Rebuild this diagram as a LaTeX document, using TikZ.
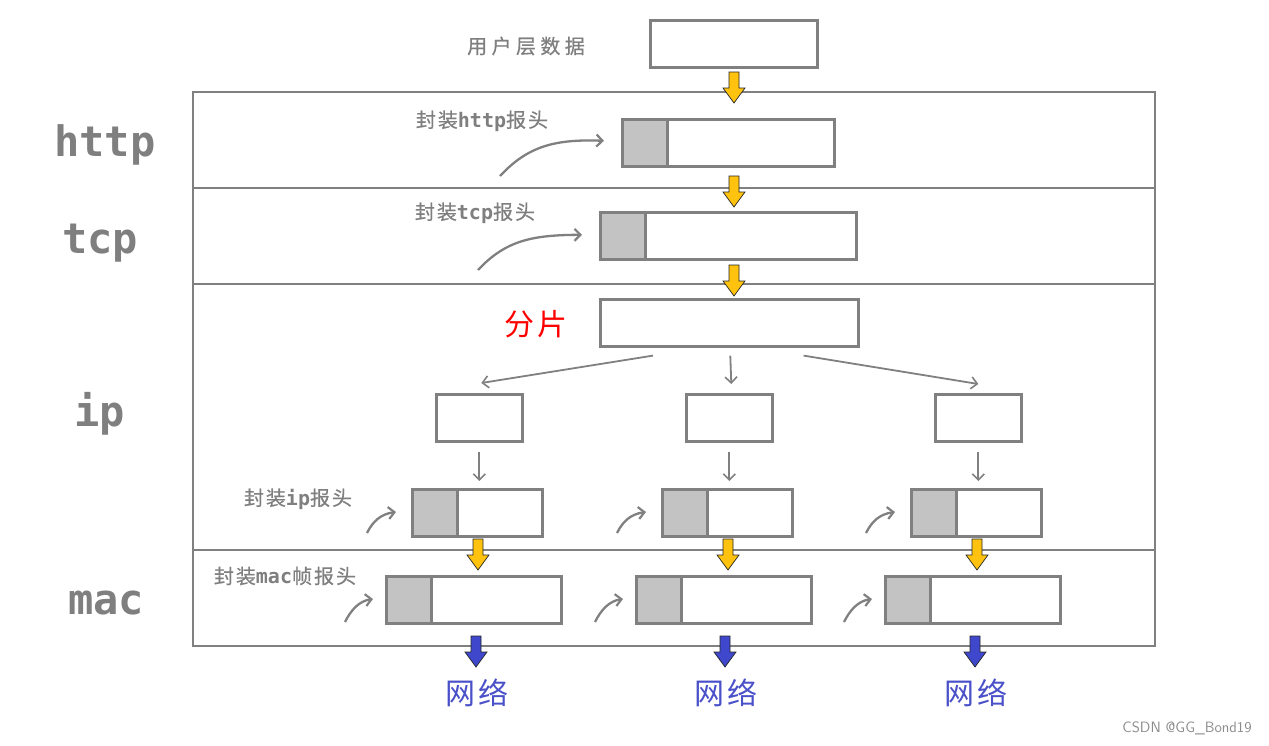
\documentclass[tikz,border=0pt]{standalone}
\usepackage{fontspec}
\usetikzlibrary{arrows.meta,calc}
\newfontfamily\cjk[LetterSpace=22,FakeBold=0.6]{Noto Sans CJK SC}
\newfontfamily\cjkb[LetterSpace=10,FakeBold=0.6]{Noto Sans CJK SC}
\newfontfamily\cjkn[LetterSpace=10]{Noto Sans CJK SC}
\newfontfamily\monob{DejaVu Sans Mono Bold}
\definecolor{lg}{HTML}{808080}
\definecolor{hg}{HTML}{C3C3C3}
\definecolor{ylw}{HTML}{FFC20E}
\definecolor{blu}{HTML}{3F48CC}
\definecolor{blut}{HTML}{4A50C8}
\definecolor{txtg}{HTML}{7F7F7F}
\newcommand\blockarr[4]{%
  \coordinate (#1) at (#2,#3);
  \filldraw[fill=#4, draw=black!85, line width=0.7pt]
    ($(#1)+(-5,0)$) -- ($(#1)+(5,0)$) -- ($(#1)+(5,16)$) -- ($(#1)+(11,16)$) --
    ($(#1)+(0,31)$) -- ($(#1)+(-11,16)$) -- ($(#1)+(-5,16)$) -- cycle;}
\begin{document}
\begin{tikzpicture}[x=1pt,y=-1pt,
  box/.style={draw=lg, line width=2.6pt, fill=white, inner sep=0pt, anchor=north west, minimum height=47pt},
  hdr/.style={box, fill=hg, minimum width=45pt},
  frame/.style={draw=lg, line width=2.4pt},
  layer/.style={text=txtg, font=\monob\fontsize{42}{42}\selectfont, inner sep=0pt},
  lbl/.style={text=txtg, font=\fontsize{20}{20}\selectfont, inner sep=0pt},
  cur/.style={draw=lg, line width=2.3pt, -{Straight Barb[length=6pt,width=12pt,line width=2.2pt]}},
  thin/.style={draw=lg, line width=1.8pt, -{Straight Barb[length=6pt,width=12pt,line width=1.6pt]}},
]
\useasboundingbox (0,0) rectangle (1269,745);
% frame
\draw[frame] (193,92) rectangle (1155,646);
\draw[frame] (193,188) -- (1155,188);
\draw[frame] (193,284) -- (1155,284);
\draw[frame] (193,550) -- (1155,550);
% layer labels
\node[layer] (lhttp) at (105,145) {http};
\node[layer] (ltcp) at (100,243) {tcp};
\node[layer] (lip) at (100,414) {ip};
\node[layer] (lmac) at (106,603) {mac};
% user data
\node[lbl] (tuser) at (526,46) {\cjk 用户层数据};
\node[box, minimum width=167pt] (user) at (649,19) {};
\blockarr{a1}{734}{72}{ylw}
% http
\node[lbl] (thttp) at (482,121) {\cjkb 封装\monob http\cjkb 报头};
\node[hdr] (hhttp) at (621,118) {};
\node[box, minimum width=167pt] (dhttp) at (666,118) {};
\coordinate (chttp) at (500,176);
\draw[cur] (chttp) .. controls (528,146) and (555,139) .. ($(hhttp.west)+(-17,-2)$);
\blockarr{a2}{734}{176}{ylw}
% tcp
\node[lbl] (ttcp) at (475,213) {\cjkb 封装\monob tcp\cjkb 报头};
\node[hdr] (htcp) at (599,211) {};
\node[box, minimum width=211pt] (dtcp) at (644,211) {};
\coordinate (ctcp) at (478,270);
\draw[cur] (ctcp) .. controls (506,240) and (533,235) .. ($(htcp.west)+(-17,-1)$);
\blockarr{a3}{734}{265}{ylw}
% fragment
\node[text=red, font=\fontsize{30}{30}\selectfont, inner sep=0pt] (tfrag) at (536,324) {\cjkn 分片};
\node[box, minimum width=258pt] (frag) at (599,298) {};
% three fragments
\foreach \i/\x/\bx in {1/435/411, 2/685/661, 3/934/910} {
  \node[box, minimum width=86pt] (s\i) at (\x,393) {};
  \node[hdr] (hip\i) at (\bx,488) {};
  \node[box, minimum width=85pt] (dip\i) at (\bx+45,488) {};
  \draw[thin] ($(s\i.south)+(0,9)$) -- ($(s\i.south |- hip\i.north)+(0,-7)$);
  \coordinate (cip\i) at (\bx-44,533);
  \draw[cur] (cip\i) .. controls (\bx-38,521) and (\bx-30,514) .. (\bx-15,512);
}
\draw[thin] ($(frag.south west)+(54,8)$) -- ($(s1.north)+(2,-10)$);
\draw[thin] ($(frag.south)+(1,8)$) -- ($(s2.north)+(2,-9)$);
\draw[thin] ($(frag.south east)+(-56,8)$) -- ($(s3.north)+(0,-9)$);
\node[lbl] (tip) at (298,499) {\cjkb 封装\monob ip\cjkb 报头};
% mac
\node[lbl] (tmac) at (285,576) {\cjkb 封装\monob mac\cjkb 帧报头};
\foreach \i/\bx/\ax in {1/385/478, 2/635/728, 3/884/977} {
  \blockarr{y\i}{\ax}{539}{ylw}
  \node[hdr] (hmac\i) at (\bx,575) {};
  \node[box, minimum width=130pt] (dmac\i) at (\bx+45,575) {};
  \coordinate (cmac\i) at (\bx-40,622);
  \draw[cur] (cmac\i) .. controls (\bx-34,610) and (\bx-26,601) .. (\bx-12,599);
}
\foreach \i/\ax in {1/476, 2/725, 3/975} {
  \blockarr{b\i}{\ax}{636}{blu}
  \node[text=blut, font=\fontsize{30}{30}\selectfont, inner sep=0pt] (net\i) at (\ax+1,693) {\cjkn 网络};
}
\node[text=black!45, font=\fontsize{15}{15}\selectfont\sffamily, inner sep=0pt] (wm) at (1187,728) {CSDN @GG\_Bond19};
\end{tikzpicture}
\end{document}
